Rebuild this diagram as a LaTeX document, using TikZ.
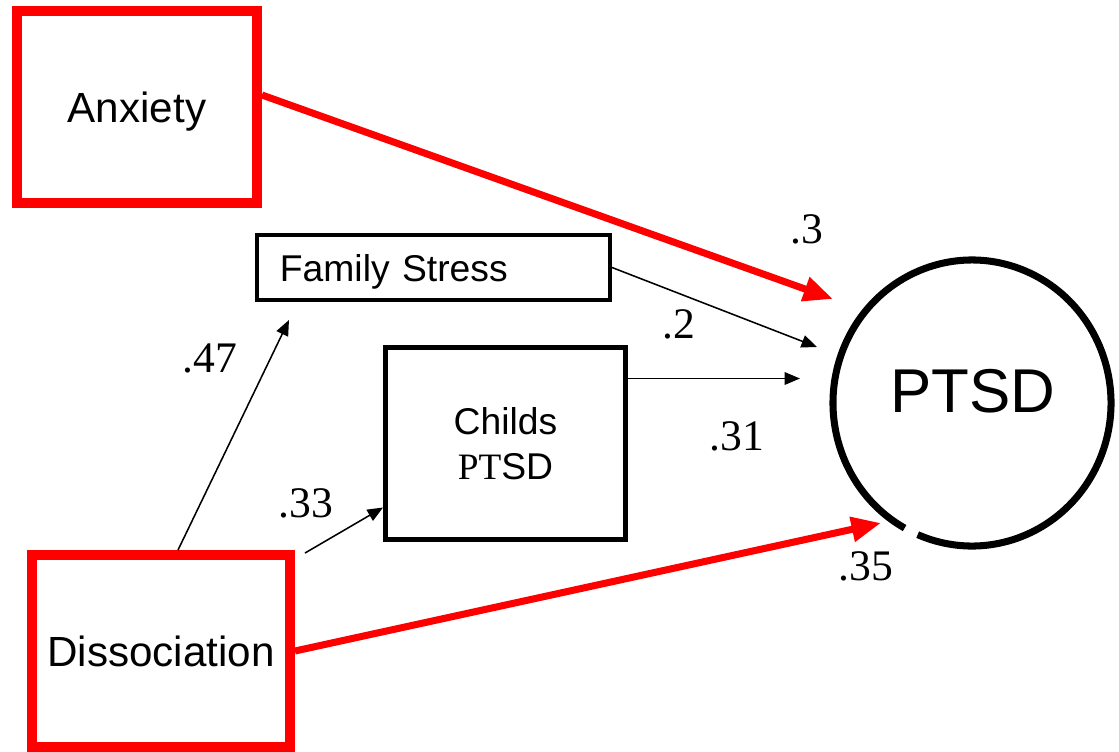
\documentclass[tikz,border=0pt]{standalone}
\usepackage{fontspec}
\setmainfont{Liberation Sans}
\newfontfamily\numfont{Liberation Serif}
\usetikzlibrary{shapes,arrows.meta,positioning,calc}
\definecolor{riskred}{RGB}{255,0,0}

\begin{document}
\begin{tikzpicture}[
    x=0.025cm, y=0.025cm,
    riskbox/.style={rectangle, draw=riskred, line width=7pt, minimum height=4.8cm,
                    text depth=0pt, font=\fontsize{30pt}{35pt}\selectfont},
    factorbox/.style={rectangle, draw=black, font=\fontsize{26.5pt}{32pt}\selectfont},
    weight/.style={anchor=base, inner sep=0pt, font=\numfont\fontsize{31pt}{36pt}\selectfont},
    redarrow/.style={-{Triangle[length=21pt,width=17pt]}, line width=5pt, color=riskred},
    arrow/.style={-{Triangle[length=11pt,width=9pt]}, line width=1.1pt}
]
\useasboundingbox (0,0) rectangle (1119,-751);

% Predictors (red)
\node[riskbox, minimum width=6cm] (anx) at (137,-107) {Anxiety};
\node[riskbox, minimum width=6.45cm] (diss) at (161,-651) {Dissociation};

% Mediators
\node[factorbox, line width=2.8pt, minimum height=1.625cm, text width=7.675cm,
      inner xsep=0.575cm, align=left, text depth=0pt] (fs) at (433.5,-267.5) {Family Stress};
\node[factorbox, line width=3.5pt, minimum width=6cm, minimum height=4.8cm,
      align=center] (childs) at (505.5,-443.5) {Childs\\{\numfont PT}SD};

% Outcome
\coordinate (ctr) at (972,-403);
\node[font=\fontsize{44pt}{50pt}\selectfont] (ptsd) at (973,-391) {PTSD};
\draw[line width=5pt] ($(ctr)+(247:139 and 143)$) arc[start angle=247, end angle=601, x radius=139, y radius=143];

% Arrow ends near the outcome
\coordinate (tipA) at (833,-299);
\coordinate (tipF) at (817,-347);
\coordinate (tipC) at (800,-378.5);
\coordinate (tipD) at (881,-523);

% Paths
\draw[redarrow] ($(anx.east)+(0,12)$) -- (tipA);
\draw[redarrow] (diss.east) -- (tipD);
\draw[arrow] (fs.east) -- (tipF);
\draw[arrow] ($(childs.east)+(0,65)$) -- (tipC);
\draw[arrow] ($(diss.north)+(17,0)$) -- ($(fs.south west)+(34,-18)$);
\draw[arrow] ($(diss.north east)+(10,-3)$) -- ($(childs.west)+(0,-64)$);

% Path weights
\node[weight] (wA) at (807,-243) {.3};
\node[weight] (wF) at (679,-338) {.2};
\node[weight] (wC) at (737,-450) {.31};
\node[weight] (wFS) at (210,-372) {.47};
\node[weight] (wCh) at (306,-517) {.33};
\node[weight] (wD) at (866,-580) {.35};

\end{tikzpicture}
\end{document}
